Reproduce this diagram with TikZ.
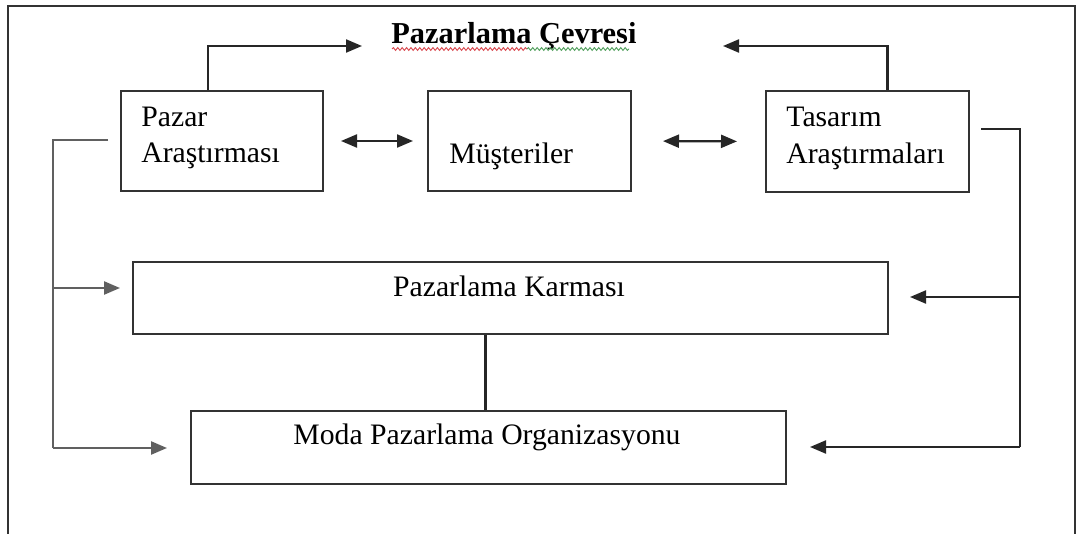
\documentclass[tikz,border=0pt]{standalone}
\usepackage{fontspec}
\setmainfont{Liberation Serif}
\usetikzlibrary{arrows.meta,decorations.pathmorphing}

\definecolor{edgegray}{HTML}{333333}
\definecolor{sidegray}{HTML}{606060}
\definecolor{spellred}{HTML}{D8444A}
\definecolor{spellgreen}{HTML}{4E9E5A}

\tikzset{
  box/.style={draw=edgegray, line width=1pt, rectangle, inner sep=0pt},
  conn/.style={draw=black!85, line width=1.1pt},
  sideconn/.style={draw=sidegray, line width=1.2pt},
  tip/.style={-{Triangle[length=8pt,width=6.5pt]}},
  bitip/.style={{Triangle[length=8pt,width=6.5pt]}-{Triangle[length=8pt,width=6.5pt]}},
  lbl/.style={inner sep=0pt, font=\fontsize{14.85}{17.8}\selectfont},
  wavy/.style={line width=0.45pt, decorate, decoration={snake, segment length=2.2pt, amplitude=0.7pt}},
}

\begin{document}
\begin{tikzpicture}[x=0.5pt, y=-0.5pt]
  \useasboundingbox (0,0) rectangle (1078,534);
  \fill[white] (0,0) rectangle (1078,534);

  % outer frame (its lower edge runs below the page)
  \draw[edgegray, line width=1pt] (8,560) -- (8,6) -- (1075,6) -- (1075,560);

  % title
  \node[lbl, anchor=base west, font=\fontsize{15.2}{18}\selectfont\bfseries] (title) at (391,44) {Pazarlama Çevresi};
  \coordinate (wa) at (392,49);
  \coordinate (wb) at (527,49);
  \coordinate (wc) at (629,49);
  \draw[wavy, spellred] (wa) -- (wb);
  \draw[wavy, spellgreen] (wb) -- (wc);

  % boxes
  \node[box, minimum width=101pt, minimum height=50pt] (par) at (222,141) {};
  \node[box, minimum width=101.5pt, minimum height=50pt] (mus) at (529.5,141) {};
  \node[box, minimum width=101.5pt, minimum height=50.5pt] (tas) at (867.5,141.5) {};
  \node[box, minimum width=377.5pt, minimum height=36pt] (kar) at (510.5,298) {};
  \node[box, minimum width=297.5pt, minimum height=36.5pt] (moda) at (488.5,447.5) {};

  % box texts
  \node[lbl, anchor=base west] (parA) at (141,127) {Pazar};
  \node[lbl, anchor=base west] (parB) at (141,163) {Araştırması};
  \node[lbl, anchor=base west] (musA) at (449,164) {Müşteriler};
  \node[lbl, anchor=base west] (tasA) at (786,127) {Tasarım};
  \node[lbl, anchor=base west] (tasB) at (786,164) {Araştırmaları};
  \node[lbl, anchor=base] (karA) at (509,297) {Pazarlama Karması};
  \node[lbl, anchor=base] (modaA) at (487,445) {Moda Pazarlama Organizasyonu};

  % links to the marketing environment
  \coordinate (envL) at (362,46);
  \coordinate (envR) at (723,46);
  \draw[conn, tip] ([xshift=-7pt]par.north) |- (envL);
  \draw[conn, tip] ([xshift=10pt]tas.north) |- (envR);

  % two-way links on the top row
  \draw[conn, bitip, shorten <=8.5pt, shorten >=7pt] (par.east) -- (mus.west);
  \draw[conn, bitip, shorten <=15.5pt, shorten >=14pt] (mus.east) -- (tas.west);

  % left feed from market research
  \coordinate (lt) at (53,140);
  \coordinate (lk) at (53,288);
  \coordinate (lb) at (53,448);
  \draw[sideconn] ([xshift=-6pt]par.west |- lt) -- (lt) -- (lb);
  \draw[sideconn, tip] (lk) -- ([xshift=-6pt]kar.west |- lk);
  \draw[sideconn, tip] (lb) -- ([xshift=-11.5pt]moda.west |- lb);

  % right feed from design research
  \coordinate (rt) at (1020,129);
  \coordinate (rk) at (1020,297);
  \coordinate (rb) at (1020,447);
  \draw[conn] ([xshift=5.5pt]tas.east |- rt) -- (rt) -- (rb);
  \draw[conn, tip] (rk) -- ([xshift=10.5pt]kar.east |- rk);
  \draw[conn, tip] (rb) -- ([xshift=11.5pt]moda.east |- rb);

  % marketing mix to organisation
  \draw[conn] ([xshift=-12.5pt]kar.south) -- ([xshift=-12.5pt]kar.south |- moda.north);
\end{tikzpicture}
\end{document}
